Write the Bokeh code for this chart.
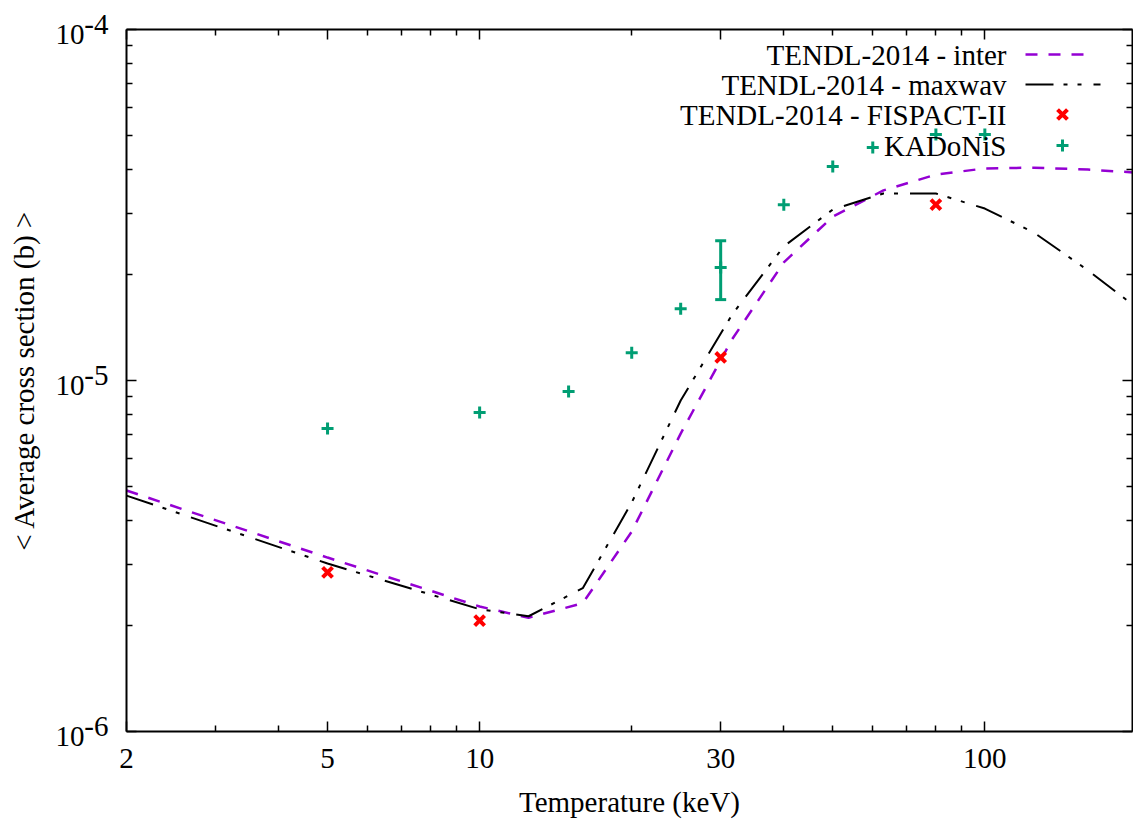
from math import log10
from bokeh.plotting import figure
from bokeh.models import (FixedTicker, LogAxis, CustomJSTickFormatter, Label,
                          ColumnDataSource, Whisker, TeeHead, Range1d)
from bokeh.embed import file_html
from bokeh.resources import INLINE

# ---------------- data ----------------
temps = [2, 5, 10, 12.5, 16, 20, 25, 31.6, 40, 50, 63, 80, 100, 125, 160, 200]
inter = [4.86e-6, 3.13e-6, 2.27e-6, 2.11e-6, 2.32e-6, 3.71e-6, 7.06e-6, 1.31e-5,
         2.17e-5, 2.93e-5, 3.48e-5, 3.86e-5, 4.02e-5, 4.04e-5, 3.99e-5, 3.91e-5]
maxwav = [4.70e-6, 3.01e-6, 2.23e-6, 2.13e-6, 2.56e-6, 4.49e-6, 8.77e-6, 1.54e-5,
          2.41e-5, 3.07e-5, 3.41e-5, 3.41e-5, 3.09e-5, 2.64e-5, 2.06e-5, 1.61e-5]
fispact_T = [5, 10, 30, 80]
fispact = [2.84e-6, 2.07e-6, 1.163e-5, 3.17e-5]
kadonis_T = [5, 10, 15, 20, 25, 30, 40, 50, 60, 80, 100]
kadonis = [7.30e-6, 8.11e-6, 9.30e-6, 1.20e-5, 1.60e-5, 2.10e-5, 3.17e-5,
           4.07e-5, 4.61e-5, 5.02e-5, 5.02e-5]
kadonis_err_T = [30]
kadonis_err_lo = [1.7e-5]
kadonis_err_hi = [2.5e-5]

x_major = [2, 5, 10, 30, 100]
x_minor = [3, 4, 6, 7, 8, 9, 20, 40, 50, 60, 70, 80, 90]
y_major = [1e-6, 1e-5, 1e-4]
y_exponents = ["-6", "-5", "-4"]
y_minor = [m * d for d in (1e-6, 1e-5) for m in range(2, 10)]
legend_labels = ["TENDL-2014 - inter", "TENDL-2014 - maxwav",
                 "TENDL-2014 - FISPACT-II", "KADoNiS"]

# ---------------- styling / layout ----------------
FONT = "Liberation Serif"
FS = "29px"
W, H = 1133, 825
L, R, T, B = 126, 1, 29, 94
X0, X1 = 2, 196
Y0, Y1 = 1e-6, 1e-4
PURPLE = "#9400D3"
GREEN = "#009E73"
RED = "#FF0000"
DASH_INTER = "12 11"
DASH_MAX = "28 10 4 10 4 12"

p = figure(width=W, height=H, x_axis_type="log", y_axis_type="log",
           x_range=Range1d(X0, X1), y_range=Range1d(Y0, Y1),
           output_backend="svg", toolbar_location=None,
           min_border_left=L, min_border_right=R, min_border_top=T,
           min_border_bottom=B)
p.outline_line_color = None
p.xgrid.grid_line_color = None
p.ygrid.grid_line_color = None
p.background_fill_color = "white"
p.border_fill_color = "white"

xt = FixedTicker(ticks=x_major, minor_ticks=x_minor)
yt = FixedTicker(ticks=y_major, minor_ticks=y_minor)
blank = CustomJSTickFormatter(code="return ''")


def style_axis(ax):
    ax.axis_line_color = "black"
    ax.axis_line_width = 2
    ax.major_tick_in = 10
    ax.major_tick_out = 0
    ax.minor_tick_in = 6
    ax.minor_tick_out = 0
    ax.major_tick_line_color = "black"
    ax.minor_tick_line_color = "black"
    ax.major_tick_line_width = 1.5
    ax.minor_tick_line_width = 1.5


def label_only(ax):
    ax.axis_line_color = None
    ax.major_tick_line_color = None
    ax.minor_tick_line_color = None
    ax.major_tick_in = 0
    ax.major_tick_out = 0
    ax.minor_tick_in = 0
    ax.minor_tick_out = 0
    ax.major_label_text_font = FONT
    ax.major_label_text_font_size = FS
    ax.major_label_text_color = "black"


xa = p.xaxis[0]
xa.ticker = xt
xa.formatter = CustomJSTickFormatter(code="return String(tick)")
xa.major_label_text_font = FONT
xa.major_label_text_font_size = FS
xa.major_label_text_color = "black"
xa.major_label_standoff = 17
xa.axis_label = "Temperature (keV)"
xa.axis_label_text_font = FONT
xa.axis_label_text_font_size = FS
xa.axis_label_text_font_style = "normal"
xa.axis_label_text_color = "black"
xa.axis_label_standoff = 15
style_axis(xa)

# innermost left axis: the frame line and ticks only
ya = p.yaxis[0]
ya.ticker = yt
ya.formatter = blank
ya.major_label_text_font_size = "0px"
ya.major_label_standoff = 0
style_axis(ya)

exp_fmt = CustomJSTickFormatter(args=dict(vals=y_major, labs=y_exponents), code="""
    for (let i = 0; i < vals.length; i++) {
        if (Math.abs(Math.log10(tick) - Math.log10(vals[i])) < 1e-6) return labs[i] + "\\n";
    }
    return '';
""")
ten_fmt = CustomJSTickFormatter(code="return '\\n10'")

# next axis out: the raised exponents
ax_exp = LogAxis(ticker=yt, formatter=exp_fmt)
label_only(ax_exp)
ax_exp.major_label_standoff = 18
ax_exp.major_label_text_line_height = 0.37
p.add_layout(ax_exp, "left")

# outer axis: the "10" mantissas and the axis title
ax_ten = LogAxis(ticker=yt, formatter=ten_fmt)
label_only(ax_ten)
ax_ten.major_label_standoff = -3
ax_ten.major_label_text_line_height = 0.25
ax_ten.axis_label = "< Average cross section (b) >"
ax_ten.axis_label_text_font = FONT
ax_ten.axis_label_text_font_size = FS
ax_ten.axis_label_text_font_style = "normal"
ax_ten.axis_label_text_color = "black"
ax_ten.axis_label_standoff = 13
p.add_layout(ax_ten, "left")

top = LogAxis(ticker=xt, formatter=blank, major_label_text_font_size="0px",
              major_label_standoff=0)
style_axis(top)
p.add_layout(top, "above")
right = LogAxis(ticker=yt, formatter=blank, major_label_text_font_size="0px",
                major_label_standoff=0)
style_axis(right)
p.add_layout(right, "right")

# ---------------- series ----------------
p.line(temps, inter, line_color=PURPLE, line_width=2.5, line_dash=DASH_INTER)
p.line(temps, maxwav, line_color="black", line_width=2, line_dash=DASH_MAX)
p.scatter(fispact_T, fispact, marker="x", size=14, line_width=4,
          line_color=RED)
err = ColumnDataSource(dict(base=kadonis_err_T, lower=kadonis_err_lo,
                            upper=kadonis_err_hi))
p.add_layout(Whisker(source=err, base="base", lower="lower", upper="upper",
                     dimension="height", line_color=GREEN, line_width=3,
                     lower_head=TeeHead(size=11, line_color=GREEN, line_width=3),
                     upper_head=TeeHead(size=11, line_color=GREEN, line_width=3)))
p.scatter(kadonis_T, kadonis, marker="cross", size=12, line_width=3,
          line_color=GREEN)

# ---------------- legend (gnuplot style: text left, sample right) ----------------
fw = W - L - R
fh = H - T - B


def px2x(px):
    return 10 ** (log10(X0) + (px - L) / fw * (log10(X1) - log10(X0)))


def py2y(py):
    return 10 ** (log10(Y1) - (py - T) / fh * (log10(Y1) - log10(Y0)))


rows = [54, 84, 114, 145]
sx0, sx1, smid, tx = 1025, 1100, 1062, 1006
for lab, ry in zip(legend_labels, rows):
    p.add_layout(Label(x=px2x(tx), y=py2y(ry), text=lab, text_align="right",
                       text_baseline="middle", text_font=FONT,
                       text_font_size=FS, text_color="black"))
p.line([px2x(sx0), px2x(sx1 - 15)], [py2y(rows[0])] * 2, line_color=PURPLE,
       line_width=2.5, line_dash=DASH_INTER)
p.line([px2x(sx0), px2x(sx1)], [py2y(rows[1])] * 2, line_color="black",
       line_width=2, line_dash=DASH_MAX)
p.scatter([px2x(smid)], [py2y(rows[2])], marker="x", size=14, line_width=4,
          line_color=RED)
p.scatter([px2x(smid)], [py2y(rows[3])], marker="cross", size=12, line_width=3,
          line_color=GREEN)

open("out.html", "w").write(file_html(p, INLINE))
